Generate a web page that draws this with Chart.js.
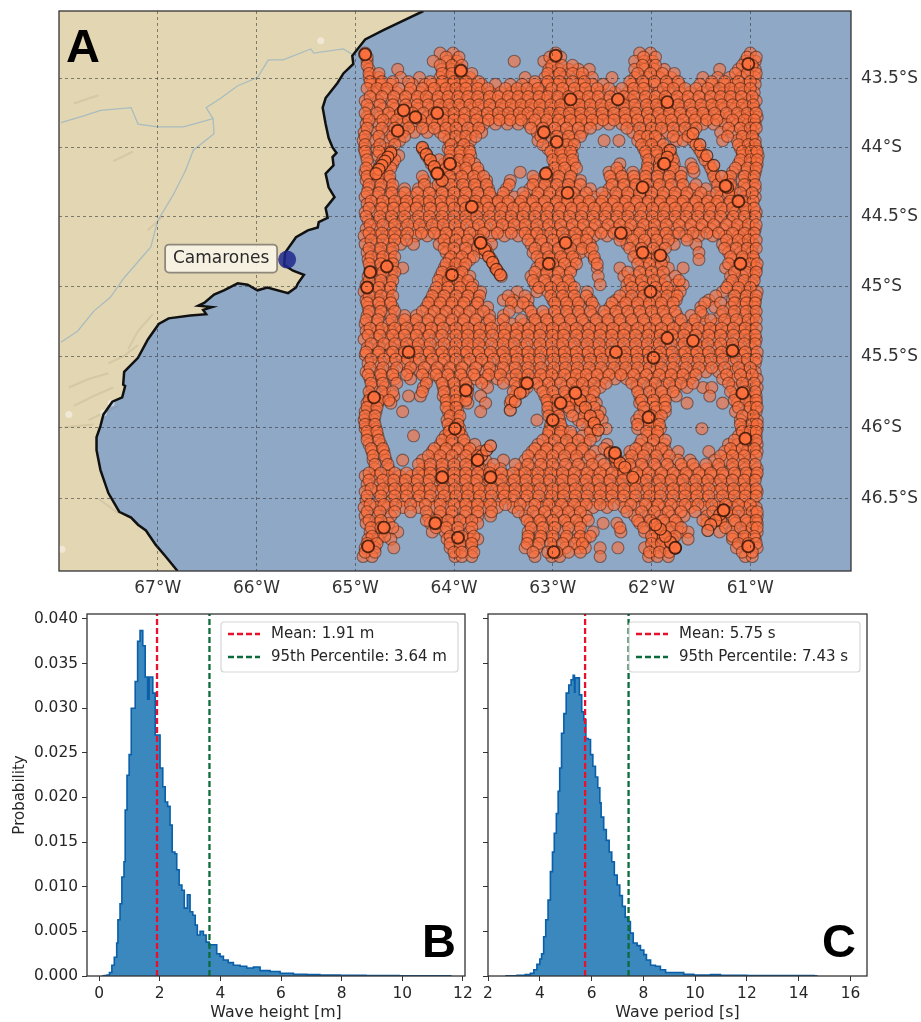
<!DOCTYPE html>
<html>
<head>
<meta charset="utf-8">
<title>Camarones waves</title>
<script src="https://cdn.jsdelivr.net/npm/chart.js@4"></script>
<style>
  html, body { margin: 0; padding: 0; background: #fff; }
  body { position: relative; width: 921px; height: 1022px; overflow: hidden; }
  canvas { position: absolute; filter: blur(0.4px); }
</style>
</head>
<body>
<canvas id="map" width="921" height="604" style="left:0;top:0;width:921px;height:604px"></canvas>
<canvas id="height" width="475" height="418" style="left:0;top:604px;width:475px;height:418px"></canvas>
<canvas id="period" width="446" height="418" style="left:475px;top:604px;width:446px;height:418px"></canvas>
<script>
/* ===== map data ===== */
const lonTicks = [-67, -66, -65, -64, -63, -62, -61];
const lonLabels = ['67°W', '66°W', '65°W', '64°W', '63°W', '62°W', '61°W'];
const latTicks = [-43.5, -44, -44.5, -45, -45.5, -46, -46.5];
const latLabels = ['43.5°S', '44°S', '44.5°S', '45°S', '45.5°S', '46°S', '46.5°S'];

const siteName = 'Camarones';
const siteLon = -65.69;
const siteLat = -44.81;

// coastline, north to south
const coastLon = [-64.31,-64.54,-64.71,-64.90,-65.03,-65.02,-65.12,-65.18,-65.30,-65.33,-65.30,-65.27,-65.23,-65.19,-65.23,-65.22,-65.30,-65.27,-65.21,-65.30,-65.28,-65.37,-65.38,-65.48,-65.60,-65.71,-65.72,-65.63,-65.52,-65.58,-65.60,-65.68,-65.89,-65.99,-66.09,-66.19,-66.33,-66.43,-66.53,-66.59,-66.45,-66.54,-66.51,-66.67,-66.89,-66.99,-67.10,-67.20,-67.34,-67.35,-67.33,-67.36,-67.46,-67.55,-67.58,-67.62,-67.62,-67.58,-67.50,-67.39,-67.27,-67.20,-67.12,-67.02,-66.92,-66.80];
const coastLat = [-43.00,-43.08,-43.14,-43.21,-43.33,-43.39,-43.46,-43.53,-43.64,-43.71,-43.83,-43.93,-44.00,-44.04,-44.07,-44.13,-44.19,-44.29,-44.36,-44.44,-44.51,-44.54,-44.58,-44.60,-44.65,-44.76,-44.85,-44.89,-44.92,-44.98,-45.01,-45.05,-45.01,-45.03,-44.99,-44.98,-45.03,-45.06,-45.12,-45.14,-45.15,-45.17,-45.20,-45.21,-45.23,-45.27,-45.38,-45.51,-45.61,-45.70,-45.71,-45.79,-45.82,-45.91,-45.99,-46.07,-46.16,-46.30,-46.46,-46.59,-46.63,-46.68,-46.72,-46.82,-46.90,-47.00];

const riverOneLon = [-67.98,-67.75,-67.58,-67.27,-67.20,-67.00,-66.74,-66.44,-66.51,-66.36,-66.19,-65.99,-65.88,-65.73,-65.45,-65.42,-65.12,-65.03];
const riverOneLat = [-43.82,-43.77,-43.73,-43.71,-43.83,-43.85,-43.85,-43.79,-43.71,-43.64,-43.55,-43.49,-43.36,-43.36,-43.28,-43.31,-43.28,-43.32];
const riverTwoLon = [-66.44,-66.43,-66.64,-66.72,-66.84,-67.00,-67.07,-67.34,-67.48,-67.65,-67.81,-67.98];
const riverTwoLat = [-43.79,-43.90,-44.02,-44.17,-44.34,-44.53,-44.72,-44.94,-45.08,-45.18,-45.32,-45.40];

// relief strokes on land, null splits one stroke from the next
const ridgeLon = [-67.90,-67.70,-67.50,null,-67.85,-67.65,-67.45,null,-67.70,-67.40,null,-67.50,-67.35,-67.20,null,-67.30,-67.20,-67.05,null,-67.95,-67.65,null,-67.60,-67.40,null,-67.85,-67.60,null,-67.45,-67.25,null,-67.10,-66.95];
const ridgeLat = [-45.72,-45.66,-45.62,null,-45.85,-45.78,-45.72,null,-45.95,-45.85,null,-45.55,-45.50,-45.42,null,-45.45,-45.32,-45.20,null,-46.00,-45.98,null,-46.50,-46.60,null,-43.68,-43.62,null,-44.10,-44.03,null,-44.60,-44.50];
const paleLon = [-67.47,-67.90,-67.55,-67.97,-65.35];
const paleLat = [-45.83,-45.91,-45.90,-46.85,-43.22];

// wave observations, one latitude per row; track values are degrees west of 60W x 100
const trackLats = [-43.31,-43.37,-43.43,-43.49,-43.54,-43.60,-43.66,-43.72,-43.78,-43.83,-43.89,-43.95,-44.01,-44.06,-44.12,-44.18,-44.24,-44.30,-44.36,-44.41,-44.47,-44.53,-44.59,-44.64,-44.70,-44.76,-44.81,-44.87,-44.93,-44.99,-45.04,-45.10,-45.15,-45.21,-45.27,-45.32,-45.38,-45.44,-45.49,-45.55,-45.61,-45.66,-45.72,-45.78,-45.83,-45.89,-45.95,-46.01,-46.06,-46.12,-46.17,-46.23,-46.29,-46.34,-46.40,-46.45,-46.51,-46.56,-46.62,-46.67,-46.73,-46.78,-46.84,-46.90];
const trackWest = [
  [490,401,414,297,201,212,100],
  [488,421,407,397,339,309,299,217,207,199,105,95],
  [486,457,412,402,394,304,294,284,274,263,217,207,197,187,131,112,102,95],
  [486,476,454,435,414,404,394,384,328,308,298,288,272,260,240,217,204,192,180,148,133,121,109,95],
  [484,474,464,442,429,422,412,402,392,382,372,358,343,331,318,306,295,285,272,260,249,220,207,197,184,172,151,139,126,116,103,95],
  [482,470,458,446,434,424,413,404,393,384,373,363,353,342,332,322,312,303,292,282,272,262,252,237,224,214,203,193,183,171,161,149,137,127,117,106,96],
  [490,477,463,451,439,428,418,408,398,388,378,368,357,347,337,327,317,307,297,287,277,267,257,245,231,220,208,198,188,176,166,155,143,132,122,112,101,94],
  [486,472,460,447,436,423,412,402,392,381,370,360,350,339,329,319,310,299,290,279,270,259,249,238,226,214,203,192,181,170,158,148,137,127,116,105,96],
  [488,475,463,450,439,427,416,405,395,384,373,362,351,341,330,321,308,298,286,276,266,255,244,232,221,210,198,187,176,165,154,143,131,121,110,100,93],
  [489,476,464,452,441,428,417,406,394,381,370,358,346,335,324,312,300,289,277,265,255,243,230,219,206,195,184,172,160,148,137,125,113,102,95],
  [491,478,466,452,440,427,414,403,392,381,372,316,305,293,282,270,219,207,196,184,172,160,130,118,107,97],
  [492,480,466,455,405,393,383,315,301,289,279,248,233,214,202,192,175,168,158,128,113,103,95],
  [491,478,468,432,406,395,385,305,293,281,208,197,186,152,110,100,94],
  [489,477,466,456,428,403,393,383,300,290,280,205,194,180,148,108,98,92],
  [487,474,462,423,410,400,389,379,298,288,278,232,204,192,177,160,142,112,100,93],
  [490,478,468,418,407,396,386,375,333,304,293,281,243,232,219,206,193,181,170,157,138,118,105,95],
  [489,477,465,430,413,400,389,378,367,343,318,307,295,283,272,240,228,217,206,194,183,170,135,122,108,97],
  [487,475,463,450,436,424,412,400,388,377,365,347,323,312,300,288,277,262,243,230,218,206,194,182,170,158,145,130,118,104,95],
  [490,478,466,454,443,431,420,408,396,384,373,362,351,339,328,316,304,292,281,270,258,247,235,224,212,200,188,176,165,153,141,130,118,106,95],
  [488,475,464,451,440,428,417,404,392,380,369,357,346,334,322,311,298,287,275,264,252,240,229,217,205,193,181,170,158,146,135,123,111,100],
  [490,478,467,455,444,431,420,409,395,383,371,360,348,336,325,313,302,290,279,267,255,244,232,220,208,196,184,173,161,150,138,127,115,104,94],
  [487,476,463,452,440,428,416,405,393,382,370,357,346,335,323,310,299,287,275,263,251,239,228,216,204,192,180,169,157,145,134,121,110,98],
  [489,478,465,453,441,430,418,406,394,380,369,356,344,331,320,308,296,283,272,260,248,236,224,212,200,188,176,163,151,140,128,116,105,95],
  [491,479,466,454,439,427,414,402,390,376,362,349,335,322,310,296,283,270,258,245,231,218,205,192,178,165,152,138,125,112,100],
  [490,478,466,454,441,415,405,392,380,373,362,322,310,298,286,274,262,225,213,201,189,177,155,128,118,107,97],
  [488,476,464,408,398,386,372,366,320,308,296,284,272,262,216,204,192,152,122,110,98],
  [487,475,464,405,395,384,362,312,301,289,277,258,212,200,188,152,118,106,96],
  [485,473,462,452,410,400,390,358,316,305,293,281,255,232,207,195,183,168,125,113,100,94],
  [487,475,463,414,404,394,384,352,322,310,298,286,254,228,216,204,192,176,120,108,96],
  [489,477,465,413,402,391,381,318,306,294,282,252,225,213,201,189,176,168,122,110,98],
  [491,479,467,420,408,396,385,373,336,316,305,293,281,265,226,213,202,190,178,171,128,114,103,93],
  [489,477,465,424,412,400,388,376,350,340,325,300,288,276,262,236,224,212,200,188,175,142,118,106,95],
  [487,474,462,428,416,404,392,378,366,335,325,296,284,272,258,242,230,217,205,193,181,150,136,120,108,96],
  [488,476,464,450,438,424,412,400,388,376,364,350,320,308,296,284,272,260,247,234,222,210,198,186,174,160,148,130,118,106,96],
  [490,478,466,454,441,428,416,404,391,379,367,355,341,329,317,305,293,281,268,256,244,232,219,207,195,183,171,158,146,134,122,110,98],
  [489,477,465,453,440,428,417,403,392,379,367,353,342,330,318,305,294,281,270,257,245,233,221,208,196,184,172,160,147,135,123,110,99],
  [491,478,466,455,442,430,416,404,391,380,368,355,345,332,319,307,295,284,271,259,246,234,222,210,198,186,173,161,149,137,125,112,100,94],
  [488,476,464,451,439,427,415,402,392,381,370,356,343,331,317,306,293,282,270,258,247,233,221,209,197,185,171,160,148,134,122,111,99],
  [490,477,465,453,441,428,416,405,390,378,366,354,342,329,319,304,292,280,268,256,244,231,219,207,195,183,170,158,146,133,121,108,96],
  [487,476,463,450,439,426,413,401,389,377,366,352,340,328,316,303,291,279,267,255,242,230,218,206,194,181,169,157,145,132,119,107,95],
  [489,475,462,447,434,420,408,395,382,368,357,344,331,318,305,293,281,269,257,245,232,220,208,196,184,171,158,145,132,118,106,95],
  [485,473,460,444,427,414,402,390,378,368,356,343,331,318,308,296,282,272,262,250,237,225,212,199,186,174,161,128,115,103,93],
  [483,470,431,411,399,386,366,336,326,313,301,287,275,264,252,215,201,189,176,164,148,139,118,105,93],
  [485,470,461,446,434,411,399,387,373,338,308,298,287,280,269,259,212,199,187,175,141,115,102,94],
  [488,477,464,407,396,386,368,343,305,295,282,272,256,212,199,187,164,128,113,100,94],
  [490,479,452,406,396,373,305,295,282,267,252,207,196,186,115,102,94],
  [491,481,407,396,316,301,293,274,262,250,215,203,193,110,98,93],
  [490,479,404,394,303,290,262,246,214,201,191,149,109,98,93],
  [488,477,441,409,404,392,305,293,280,270,257,204,194,112,102,94],
  [486,474,414,402,389,379,315,303,290,280,267,245,212,199,187,122,113,102,93],
  [483,471,422,410,398,386,373,321,308,296,282,270,257,242,222,210,197,185,173,142,126,115,103,93],
  [482,469,452,432,418,407,394,382,368,350,328,315,303,290,277,264,252,237,224,212,199,186,173,161,136,124,112,100],
  [480,466,432,424,412,399,386,373,363,353,333,321,308,296,282,269,257,245,232,220,207,194,181,168,156,144,131,118,105,93],
  [490,478,467,455,443,431,419,406,394,383,371,358,346,334,321,309,296,285,272,260,248,235,223,211,199,187,174,162,149,138,126,113,102,94],
  [488,476,464,452,440,428,416,403,391,379,368,356,343,331,319,307,294,282,270,258,245,233,220,209,196,184,172,159,147,135,123,110,98],
  [490,477,465,453,441,430,417,405,392,380,369,355,345,332,320,306,295,283,271,257,246,234,222,208,197,183,171,160,148,134,122,111,100,93],
  [489,475,463,451,438,426,414,402,390,378,366,353,341,329,317,305,293,280,268,256,244,231,219,207,195,183,170,158,146,133,121,108,97],
  [491,479,467,452,436,420,407,394,382,370,356,340,325,311,298,285,272,259,245,228,213,199,187,173,160,146,132,118,105,94],
  [490,477,464,426,414,402,389,376,363,328,315,303,290,278,266,217,203,191,179,167,144,131,118,105,93],
  [489,477,466,424,413,401,388,376,323,311,298,285,272,249,235,212,199,186,174,144,128,115,103,93],
  [485,473,457,422,409,396,384,325,313,301,288,274,259,231,207,196,183,171,163,131,118,105,93],
  [487,477,464,407,396,384,376,325,313,300,287,275,267,199,189,179,163,118,105,95],
  [490,480,461,404,394,382,328,316,300,287,274,267,252,234,207,196,186,176,114,102,93],
  [492,483,399,392,382,318,301,293,252,203,194,183,105,98],
];

// later passes between the rows above: latitude first, then the west values
const crossRows = [
  [-43.34,488,408,395,303,292,208,196,103,94],
  [-43.40,488,414,402,392,301,291,280,209,196,108,98],
  [-43.46,486,476,412,402,392,382,305,293,280,270,214,201,189,177,115,103,94],
  [-43.52,485,473,462,446,424,412,400,388,375,318,305,293,280,268,222,209,197,185,173,139,126,112,100],
  [-43.57,488,478,468,456,444,432,420,408,398,388,376,366,348,336,326,315,301,290,278,267,255,243,230,218,208,188,178,166,155,143,131,120,110,100],
  [-43.63,485,473,461,449,437,428,416,406,396,386,376,364,355,345,335,325,314,305,295,284,274,264,254,242,228,218,206,196,186,174,163,152,140,130,120,109,98],
  [-43.69,488,475,462,449,437,426,415,405,395,384,375,364,352,342,332,322,313,302,292,282,273,262,251,241,228,217,205,195,184,173,161,150,139,129,118,108,97],
  [-43.75,490,478,466,454,442,431,420,410,400,389,378,366,355,345,334,325,314,303,293,283,272,262,250,238,227,216,204,193,182,171,159,148,136,124,113,103,94],
  [-43.80,486,472,458,446,434,422,411,400,390,377,365,354,343,332,318,306,294,282,271,260,249,238,226,214,202,190,180,168,156,144,134,118,106,96],
  [-43.86,488,473,460,446,432,420,408,398,386,375,322,310,298,286,274,262,225,212,200,190,178,166,155,122,110,100,94],
  [-43.92,490,476,462,450,410,398,388,378,312,296,284,272,212,204,196,178,163,123,108,98],
  [-43.98,490,475,460,403,390,310,298,286,278,210,200,188,155,112,102,95],
  [-44.03,490,476,464,430,404,394,384,302,292,282,206,195,183,150,108,99,93],
  [-44.09,488,472,460,425,415,405,395,385,300,290,280,203,191,178,146,110,100,93],
  [-44.15,489,476,464,420,408,398,388,376,298,288,276,235,204,192,178,158,140,115,103,94],
  [-44.21,488,476,465,432,415,404,392,380,370,320,306,294,282,242,230,218,206,194,182,170,137,120,106,96],
  [-44.27,486,474,462,430,416,403,391,379,367,344,320,308,296,284,272,240,228,216,204,192,180,168,155,133,120,106,95],
  [-44.33,488,476,463,450,437,425,412,400,388,376,364,350,330,315,303,291,279,266,250,236,224,212,200,188,176,164,150,134,122,110,98],
  [-44.39,484,472,460,448,436,425,413,402,390,378,367,355,345,332,320,308,296,285,273,263,250,238,226,215,203,191,179,168,155,143,133,120,108,97],
  [-44.44,486,473,461,450,438,424,412,400,388,376,365,352,340,329,317,305,293,281,270,258,246,234,223,211,199,187,176,164,152,141,129,118,105,96],
  [-44.50,489,475,463,450,436,425,412,400,388,377,364,353,342,330,318,306,294,283,271,259,247,235,224,211,199,188,176,165,153,141,130,117,106,95],
  [-44.56,485,472,460,447,435,422,411,399,387,375,363,351,339,328,316,304,292,280,269,257,244,232,221,208,197,185,172,160,149,137,124,113,102,94],
  [-44.62,486,473,460,447,433,420,408,396,384,370,356,342,328,316,302,290,277,264,251,238,226,212,198,185,172,158,144,132,118,106,96],
  [-44.67,484,472,460,448,410,398,386,374,325,312,300,288,276,266,232,219,207,195,183,164,124,112,102,94],
  [-44.73,486,474,462,410,400,388,376,368,318,306,294,282,270,260,222,210,198,186,126,114,103,94],
  [-44.79,484,472,460,403,392,380,364,316,304,292,280,258,218,206,194,120,108,97],
  [-44.84,486,474,462,408,398,388,360,312,300,288,276,255,214,202,190,122,110,100,93],
  [-44.90,484,472,460,412,402,392,355,318,306,294,282,224,212,200,188,116,104,94],
  [-44.96,486,474,462,416,406,396,386,320,308,296,284,222,210,198,186,172,118,106,96],
  [-45.01,488,476,464,418,406,394,382,314,302,290,278,220,208,196,184,124,112,100],
  [-45.07,486,474,462,422,410,398,386,374,345,328,302,290,278,266,232,220,208,196,184,174,135,116,104,94],
  [-45.12,488,476,464,426,414,402,390,376,342,330,298,286,274,260,240,226,214,202,190,178,146,130,116,104,95],
  [-45.18,486,474,460,432,420,408,396,384,370,344,322,310,298,286,274,262,248,236,224,212,200,188,176,150,128,116,104,94],
  [-45.24,489,477,463,450,438,426,414,402,390,378,364,350,332,318,306,294,282,270,256,244,232,220,208,196,184,170,156,140,126,114,102,94],
  [-45.30,485,473,460,448,435,423,411,398,386,374,362,348,336,324,312,300,288,276,263,251,239,227,214,202,190,178,165,153,141,129,117,105,94],
  [-45.35,487,475,462,450,438,425,412,398,386,374,361,349,337,325,313,300,289,276,264,252,240,228,216,203,191,179,167,155,142,130,117,105,95],
  [-45.41,484,471,460,448,436,424,410,398,386,375,362,350,339,326,313,301,290,278,265,253,240,228,216,204,192,180,167,155,143,130,118,106,95],
  [-45.47,489,476,462,450,437,425,412,399,387,375,363,350,337,325,312,300,288,276,264,252,241,227,215,203,191,179,166,154,142,129,117,105,93],
  [-45.52,484,471,459,447,435,422,410,398,384,372,360,348,336,324,313,299,287,275,262,250,238,226,214,202,190,177,164,152,140,128,114,103,94],
  [-45.58,485,472,458,444,430,417,404,392,378,364,350,338,325,312,299,287,275,263,251,238,226,214,202,190,178,165,152,139,126,112,100],
  [-45.63,487,474,462,448,432,418,406,393,380,365,353,337,325,312,301,288,276,266,255,243,231,218,205,192,180,168,155,124,110,98],
  [-45.69,484,472,458,428,412,400,388,372,350,338,328,316,304,292,280,270,258,246,220,208,196,182,170,158,122,108,96],
  [-45.75,486,473,462,432,410,398,386,340,330,310,300,288,278,268,258,214,202,190,178,120,106,95],
  [-45.81,486,476,466,408,398,388,342,306,296,284,276,262,210,198,186,116,104,94],
  [-45.86,488,478,408,398,305,295,284,272,258,208,196,186,112,100,93],
  [-45.92,490,480,404,394,304,294,280,268,254,212,200,190,108,97],
  [-45.98,490,480,406,396,302,292,270,258,214,202,192,110,98,93],
  [-46.03,488,478,405,395,304,292,282,262,205,194,108,100,94],
  [-46.09,488,476,412,402,390,310,298,286,274,262,210,198,186,116,104,94],
  [-46.15,484,472,420,408,396,384,318,306,294,282,270,248,216,204,190,120,108,96],
  [-46.20,482,470,426,414,402,388,376,325,312,300,288,276,262,236,220,208,195,182,130,118,106,94],
  [-46.26,480,467,436,424,412,400,388,376,360,338,325,312,300,287,274,260,248,235,222,210,197,184,170,158,145,132,118,106,95],
  [-46.32,486,474,460,448,436,424,412,400,388,376,364,352,340,328,315,302,290,278,265,252,240,228,215,203,190,178,165,152,140,128,116,104,93],
  [-46.37,486,472,461,449,437,425,412,400,388,377,364,352,339,327,315,303,290,279,266,254,242,229,217,205,192,180,168,155,143,130,118,106,95],
  [-46.43,484,472,460,448,436,424,411,399,386,375,362,350,338,326,313,300,289,277,264,252,240,228,216,203,191,178,166,155,142,129,117,105,94],
  [-46.48,488,474,460,448,435,424,410,398,386,374,362,349,339,326,314,301,289,277,265,252,240,228,216,202,191,178,166,154,142,128,116,105,94],
  [-46.54,485,471,459,444,429,414,400,388,376,363,348,333,318,304,291,278,266,252,238,221,206,193,180,166,153,139,125,112,100],
  [-46.59,488,475,460,444,428,414,402,388,376,362,335,320,308,296,284,272,225,210,197,183,170,156,138,124,112,98,93],
  [-46.65,486,474,428,418,406,394,382,326,313,300,288,276,264,214,201,188,176,148,130,116,104,94],
  [-46.70,484,474,462,418,408,396,382,322,310,298,284,272,232,208,194,180,170,125,110,98,93],
  [-46.76,483,470,404,392,380,325,312,300,286,272,262,200,188,176,118,106,96],
  [-46.81,488,478,404,394,382,326,314,302,290,278,270,200,190,180,112,102,94],
  [-46.87,490,480,400,392,380,320,305,296,284,272,202,192,182,108,98],
];

// single passes seen as straight diagonal streaks
const streakLon = [-64.64,-64.67,-64.70,-64.73,-64.76,-64.79,-64.32,-64.28,-64.24,-64.20,-64.16,-64.12,-63.73,-63.69,-63.65,-63.61,-63.57,-63.53,-61.58,-61.51,-61.44,-61.37,-61.29,-61.23,-62.77,-62.72,-62.67,-62.62,-62.58,-62.54,-62.42,-62.37,-62.32,-62.27,-62.19,-61.81,-61.84,-61.88,-63.43,-63.38,-63.33,-61.27,-61.31,-61.35,-61.40,-61.43,-63.76,-63.72,-63.67,-63.63,-61.76,-61.81,-61.86,-61.91,-61.96];
const streakLat = [-44.04,-44.07,-44.10,-44.13,-44.16,-44.19,-44.00,-44.05,-44.09,-44.14,-44.19,-44.24,-44.69,-44.74,-44.79,-44.83,-44.88,-44.92,-43.90,-43.98,-44.06,-44.13,-44.21,-44.29,-45.76,-45.81,-45.86,-45.92,-45.97,-46.02,-46.18,-46.21,-46.25,-46.28,-46.35,-44.02,-44.07,-44.12,-45.88,-45.82,-45.76,-46.58,-46.61,-46.65,-46.68,-46.72,-46.23,-46.20,-46.16,-46.13,-46.84,-46.80,-46.76,-46.71,-46.68];

// spots where the satellite passes pile up and the markers go dark
const denseLon = [-64.90,-63.93,-62.97,-64.57,-64.39,-64.51,-64.17,-64.04,-64.17,-63.07,-63.09,-62.96,-62.85,-63.82,-63.73,-63.04,-62.87,-64.02,-64.68,-64.85,-64.88,-62.82,-62.34,-61.84,-61.87,-62.09,-61.25,-61.12,-62.31,-62.09,-61.91,-61.02,-62.01,-61.10,-64.81,-64.46,-63.88,-63.99,-63.76,-64.12,-64.19,-63.96,-64.87,-62.99,-63.26,-63.00,-62.92,-63.63,-64.71,-62.77,-61.58,-61.18,-61.98,-61.84,-62.36,-62.03,-61.05,-61.08,-62.37,-61.27,-61.76,-61.02];
const denseLat = [-43.32,-43.44,-43.33,-43.88,-43.78,-43.73,-43.75,-44.12,-44.19,-44.19,-43.89,-43.96,-44.33,-44.43,-44.69,-44.84,-44.69,-44.92,-44.86,-44.90,-45.01,-43.65,-43.65,-43.67,-44.12,-44.29,-44.28,-44.39,-44.62,-44.76,-44.78,-43.39,-45.04,-44.84,-45.79,-45.47,-45.74,-46.01,-46.23,-46.35,-46.67,-46.77,-46.83,-46.87,-45.69,-45.95,-45.83,-46.35,-46.70,-45.76,-45.39,-45.46,-45.51,-45.37,-45.47,-45.93,-46.08,-45.76,-46.18,-46.58,-46.84,-46.83];

/* ===== histogram data ===== */
const heightEdges = [0.10,0.18,0.26,0.34,0.42,0.50,0.58,0.62,0.69,0.75,0.82,0.86,0.92,0.99,1.06,1.19,1.27,1.35,1.44,1.52,1.60,1.65,1.77,1.85,2.01,2.10,2.18,2.26,2.34,2.41,2.50,2.56,2.64,2.73,2.81,2.91,3.00,3.09,3.17,3.24,3.33,3.44,3.53,3.63,3.77,3.88,3.99,4.10,4.26,4.43,4.65,4.87,5.09,5.31,5.64,5.97,6.41,6.85,7.28,7.95,8.80,9.90,11.50,11.60];
const heightProb = [0.00002,0.00005,0.00012,0.0004,0.0012,0.0021,0.0037,0.0063,0.0081,0.0111,0.0128,0.0186,0.0225,0.0248,0.0300,0.0330,0.0375,0.0387,0.0370,0.0335,0.0310,0.0335,0.0317,0.0270,0.0233,0.0212,0.0195,0.0190,0.0169,0.0139,0.0137,0.0119,0.0102,0.0096,0.0076,0.0091,0.0072,0.0068,0.0057,0.0046,0.0050,0.0046,0.0038,0.0035,0.0035,0.0025,0.0022,0.0018,0.0015,0.0012,0.0011,0.0009,0.0010,0.0006,0.0005,0.0003,0.0002,0.00015,0.0001,0.00007,0.00005,0.00003,0.00002,0];
const periodEdges = [2.67,3.12,3.44,3.64,3.77,3.89,4.00,4.07,4.15,4.23,4.32,4.41,4.49,4.56,4.64,4.71,4.77,4.84,4.93,5.02,5.12,5.21,5.29,5.34,5.36,5.44,5.53,5.62,5.70,5.78,5.87,5.96,6.05,6.15,6.24,6.32,6.37,6.47,6.57,6.68,6.78,6.88,6.99,7.09,7.19,7.30,7.40,7.50,7.61,7.76,7.89,8.02,8.12,8.28,8.47,8.66,8.86,9.11,9.31,9.56,9.95,10.60,10.98,12.00,14.60,14.70];
const periodProb = [0.00003,0.00007,0.00015,0.0003,0.0007,0.0013,0.0019,0.0025,0.0044,0.0063,0.0085,0.0117,0.0139,0.0160,0.0182,0.0207,0.0233,0.0272,0.0294,0.0317,0.0326,0.0332,0.0337,0.0318,0.0334,0.0334,0.0315,0.0296,0.0287,0.0266,0.0265,0.0248,0.0235,0.0223,0.0211,0.0194,0.0178,0.0164,0.0152,0.0139,0.0128,0.0113,0.0102,0.0090,0.0078,0.0066,0.0061,0.0048,0.0037,0.0034,0.0029,0.0024,0.0018,0.0012,0.0011,0.0007,0.0004,0.0004,0.0004,0.0002,0.0001,0.00015,0.00007,0.00004,0.00002,0];

const probTicks = [0, 0.005, 0.01, 0.015, 0.02, 0.025, 0.03, 0.035, 0.04];
const heightTicks = [0, 2, 4, 6, 8, 10, 12];
const periodTicks = [2, 4, 6, 8, 10, 12, 14, 16];

const heightMean = 1.91;
const heightP95 = 3.64;
const periodMean = 5.75;
const periodP95 = 7.43;

/* ===== colours ===== */
const SEA = '#8fa8c6';
const LAND = '#e3d6b3';
const MEAN_RED = '#e8112d';
const P95_GREEN = '#0c6b3a';
const TEXT = '#262626';
const FONT = "'DejaVu Sans', sans-serif";

// Web Mercator northing, in degrees, so the latitude rows spread like the map
function merc(lat) {
  return Math.log(Math.tan(Math.PI / 4 + lat * Math.PI / 360)) * 180 / Math.PI;
}

function toPoints(xs, ys, project) {
  return xs.map((x, i) => ({
    x,
    y: ys[i] == null ? null : (project ? merc(ys[i]) : ys[i]),
  }));
}

const trackPoints = [];
trackLats.forEach((lat, i) => {
  trackWest[i].forEach(w => trackPoints.push({ x: -(60 + w / 100), y: merc(lat) }));
});
crossRows.forEach(row => {
  row.slice(1).forEach(w => trackPoints.push({ x: -(60 + w / 100), y: merc(row[0]) }));
});

const landLon = coastLon.concat([-68.2, -68.2]);
const landLat = coastLat.concat([-47.0, -43.0]);

// Frame round the plot and the big panel letter
function panelPlugin(letter, left, base) {
  return {
    id: 'panel' + letter,
    afterDraw(chart) {
      const { ctx, chartArea: a } = chart;
      ctx.save();
      ctx.strokeStyle = '#333';
      ctx.lineWidth = 1.3;
      ctx.strokeRect(a.left, a.top, a.right - a.left, a.bottom - a.top);
      ctx.fillStyle = '#000';
      ctx.font = "bold 47px 'Liberation Sans', sans-serif";
      ctx.textAlign = 'left';
      ctx.textBaseline = 'alphabetic';
      ctx.fillText(letter, left, base);
      ctx.restore();
    },
  };
}

const seaPlugin = {
  id: 'sea',
  beforeDraw(chart) {
    const { ctx, chartArea: a } = chart;
    ctx.save();
    ctx.fillStyle = SEA;
    ctx.fillRect(a.left, a.top, a.right - a.left, a.bottom - a.top);
    ctx.restore();
  },
};

// Name tag for the town, left of its marker
const sitePlugin = {
  id: 'site',
  afterDraw(chart) {
    const { ctx, scales } = chart;
    const x = scales.x.getPixelForValue(siteLon);
    const y = scales.y.getPixelForValue(merc(siteLat));
    ctx.save();
    ctx.beginPath();
    ctx.roundRect(x - 122, y - 15, 112, 28, 4);
    ctx.fillStyle = 'rgba(248,243,230,0.92)';
    ctx.fill();
    ctx.strokeStyle = '#8d887a';
    ctx.lineWidth = 1.8;
    ctx.stroke();
    ctx.fillStyle = '#2b2b2b';
    ctx.font = '17px ' + FONT;
    ctx.textAlign = 'center';
    ctx.textBaseline = 'middle';
    ctx.fillText(siteName, x - 66, y - 1);
    ctx.restore();
  },
};

// Legend box inside the histogram, same look as matplotlib's
function legendPlugin(left, right) {
  return {
    id: 'boxLegend',
    afterDraw(chart) {
      const { ctx, chartArea: a } = chart;
      const top = a.top + 8;
      ctx.save();
      ctx.beginPath();
      ctx.roundRect(a.left + left, top, right - left, 50, 3);
      ctx.fillStyle = 'rgba(255,255,255,0.85)';
      ctx.fill();
      ctx.strokeStyle = '#d6d6d6';
      ctx.lineWidth = 1.2;
      ctx.stroke();
      chart.data.datasets.filter(d => d.label).forEach((d, i) => {
        const y = top + 12 + i * 23;
        ctx.beginPath();
        ctx.setLineDash([6, 3]);
        ctx.strokeStyle = d.borderColor;
        ctx.lineWidth = 2.3;
        ctx.moveTo(a.left + left + 7, y);
        ctx.lineTo(a.left + left + 39, y);
        ctx.stroke();
        ctx.setLineDash([]);
        ctx.fillStyle = TEXT;
        ctx.font = '15px ' + FONT;
        ctx.textAlign = 'left';
        ctx.textBaseline = 'middle';
        ctx.fillText(d.label, a.left + left + 50, y);
      });
      ctx.restore();
    },
  };
}

function renderMap() {
  new Chart(document.getElementById('map'), {
    type: 'scatter',
    data: {
      datasets: [
        { data: toPoints(landLon, landLat, true), showLine: true, fill: 'shape', backgroundColor: LAND, borderWidth: 0, pointRadius: 0, order: 10 },
        { data: toPoints(ridgeLon, ridgeLat, true), showLine: true, borderColor: 'rgba(120,105,80,0.13)', borderWidth: 2, pointRadius: 0, order: 9 },
        { data: toPoints(paleLon, paleLat, true), backgroundColor: 'rgba(255,255,255,0.45)', borderWidth: 0, pointRadius: 3.5, order: 9 },
        { data: toPoints(riverOneLon, riverOneLat, true), showLine: true, borderColor: '#a9bcbf', borderWidth: 1.3, pointRadius: 0, order: 8 },
        { data: toPoints(riverTwoLon, riverTwoLat, true), showLine: true, borderColor: '#a9bcbf', borderWidth: 1.3, pointRadius: 0, order: 8 },
        { data: toPoints(coastLon, coastLat, true), showLine: true, borderColor: '#111', borderWidth: 2.5, pointRadius: 0, order: 7 },
        { data: trackPoints, backgroundColor: 'rgba(255,112,60,0.62)', borderColor: 'rgba(60,25,10,0.5)', borderWidth: 1.1, pointRadius: 6, order: 5 },
        { data: toPoints(streakLon, streakLat, true), backgroundColor: 'rgba(255,112,60,0.7)', borderColor: 'rgba(45,18,5,0.7)', borderWidth: 1.2, pointRadius: 6, order: 4.5 },
        { data: toPoints(denseLon, denseLat, true), backgroundColor: 'rgba(255,112,60,0.9)', borderColor: 'rgba(45,18,5,0.8)', borderWidth: 1.9, pointRadius: 6, order: 4 },
        { data: [{ x: siteLon, y: merc(siteLat) }], backgroundColor: 'rgba(30,40,140,0.85)', borderWidth: 0, pointRadius: 9, order: 3 },
      ],
    },
    options: {
      responsive: false,
      animation: false,
      events: [],
      layout: { padding: { left: 59, top: 11 } },
      plugins: { legend: { display: false }, tooltip: { enabled: false } },
      scales: {
        x: {
          type: 'linear',
          min: -68,
          max: -59.98,
          afterBuildTicks: s => { s.ticks = lonTicks.map(value => ({ value })); },
          afterFit: s => { s.height = 33; s.paddingLeft = 0; s.paddingRight = 0; },
          grid: { color: 'rgba(45,45,45,0.55)', lineWidth: 1, drawTicks: false, z: 1 },
          border: { display: false, dash: [3, 3] },
          ticks: {
            color: '#333',
            font: { family: FONT, size: 17 },
            padding: 7,
            maxRotation: 0,
            autoSkip: false,
            callback: (v, i) => lonLabels[i],
          },
        },
        y: {
          type: 'linear',
          position: 'right',
          min: merc(-47),
          max: merc(-43),
          afterBuildTicks: s => { s.ticks = latTicks.map(l => ({ value: merc(l) })); },
          afterFit: s => { s.width = 70; s.paddingTop = 0; s.paddingBottom = 0; },
          grid: { color: 'rgba(45,45,45,0.55)', lineWidth: 1, drawTicks: false, z: 1 },
          border: { display: false, dash: [3, 3] },
          ticks: {
            color: '#333',
            font: { family: FONT, size: 17 },
            padding: 10,
            autoSkip: false,
            callback: (v, i) => latLabels[i],
          },
        },
      },
    },
    plugins: [seaPlugin, sitePlugin, panelPlugin('A', 66, 62)],
  });
}

function renderHist(id, cfg) {
  new Chart(document.getElementById(id), {
    type: 'scatter',
    data: {
      datasets: [
        { label: cfg.meanLabel, data: [{ x: cfg.mean, y: 0 }, { x: cfg.mean, y: 0.05 }], showLine: true, borderColor: MEAN_RED, borderWidth: 2.3, borderDash: [6, 3], pointRadius: 0, order: 1 },
        { label: cfg.p95Label, data: [{ x: cfg.p95, y: 0 }, { x: cfg.p95, y: 0.05 }], showLine: true, borderColor: P95_GREEN, borderWidth: 2.3, borderDash: [6, 3], pointRadius: 0, order: 1 },
        { data: toPoints(cfg.edges, cfg.prob, false), showLine: true, stepped: 'before', fill: 'origin', backgroundColor: 'rgba(31,119,180,0.88)', borderColor: '#0a5fa8', borderWidth: 1.6, pointRadius: 0, order: 2 },
      ],
    },
    options: {
      responsive: false,
      animation: false,
      events: [],
      layout: { padding: cfg.padding },
      plugins: { legend: { display: false }, tooltip: { enabled: false } },
      scales: {
        x: {
          type: 'linear',
          min: cfg.xMin,
          max: cfg.xMax,
          afterBuildTicks: s => { s.ticks = cfg.xTicks.map(value => ({ value })); },
          afterFit: s => { s.height = 46; s.paddingLeft = 0; s.paddingRight = 0; },
          grid: { drawOnChartArea: false, tickLength: 5, tickColor: '#333' },
          border: { display: false },
          title: { display: true, text: cfg.xTitle, color: TEXT, font: { family: FONT, size: 15.8 }, padding: { top: -1.5, bottom: 0 } },
          ticks: { color: TEXT, font: { family: FONT, size: 15.4 }, padding: 4, maxRotation: 0, autoSkip: false, callback: v => String(v) },
        },
        y: {
          type: 'linear',
          min: 0,
          max: 0.04056,
          afterBuildTicks: s => { s.ticks = probTicks.map(value => ({ value })); },
          afterFit: s => { s.width = cfg.yWidth; s.paddingTop = 0; s.paddingBottom = 0; },
          grid: { drawOnChartArea: false, tickLength: 5, tickColor: '#333' },
          border: { display: false },
          title: { display: !!cfg.yTitle, text: cfg.yTitle, color: TEXT, font: { family: FONT, size: 15 }, padding: { top: 11, bottom: 0 } },
          ticks: { color: TEXT, font: { family: FONT, size: 15.4 }, padding: 4, autoSkip: false, callback: v => (cfg.yTitle ? v.toFixed(3) : '') },
        },
      },
    },
    plugins: [legendPlugin(cfg.legendLeft, cfg.legendRight), panelPlugin(cfg.letter, cfg.letterX, 353)],
  });
}

renderMap();

renderHist('height', {
  edges: heightEdges, prob: heightProb, mean: heightMean, p95: heightP95,
  meanLabel: 'Mean: 1.91 m', p95Label: '95th Percentile: 3.64 m',
  xMin: -0.4, xMax: 12.07, xTicks: heightTicks, xTitle: 'Wave height [m]', yTitle: 'Probability',
  padding: { top: 10, right: 10 }, yWidth: 87, legendLeft: 134, legendRight: 371, letter: 'B', letterX: 422,
});

renderHist('period', {
  edges: periodEdges, prob: periodProb, mean: periodMean, p95: periodP95,
  meanLabel: 'Mean: 5.75 s', p95Label: '95th Percentile: 7.43 s',
  xMin: 2, xMax: 16.64, xTicks: periodTicks, xTitle: 'Wave period [s]', yTitle: '',
  padding: { top: 10, right: 54 }, yWidth: 13, legendLeft: 141, legendRight: 372, letter: 'C', letterX: 347,
});
</script>
</body>
</html>
